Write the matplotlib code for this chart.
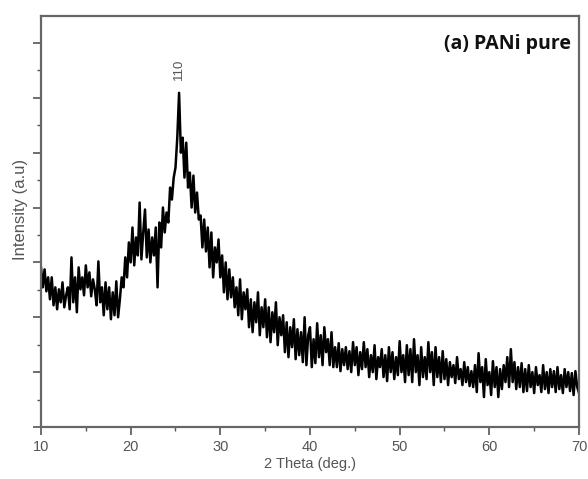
import numpy as np
import matplotlib.pyplot as plt
from matplotlib.ticker import MultipleLocator

# 2 theta from 10 to 70 deg, 0.2 deg step
two_theta = np.round(np.arange(10.0, 70.01, 0.2), 1)

intensity = [
    160, 140, 158, 136, 150,   # 10
    128, 150, 122, 140, 118,   # 11
    138, 125, 145, 120, 132,   # 12
    140, 118, 170, 125, 150,   # 13
    115, 160, 138, 150, 132,   # 14
    162, 140, 155, 131, 148,   # 15
    138, 122, 166, 125, 140,   # 16
    112, 145, 118, 140, 108,   # 17
    135, 112, 146, 110, 128,   # 18
    150, 140, 170, 150, 185,   # 19
    165, 200, 162, 190, 172,   # 20
    225, 168, 195, 218, 170,   # 21
    198, 165, 190, 172, 200,   # 22
    140, 205, 180, 220, 195,   # 23
    215, 205, 240, 228, 250,   # 24
    260, 290, 335, 275, 290,   # 25
    250, 285, 240, 255, 220,   # 26
    252, 215, 235, 208, 212,   # 27
    180, 208, 176, 200, 160,   # 28
    195, 150, 180, 165, 188,   # 29
    150, 172, 135, 165, 128,   # 30
    158, 130, 150, 120, 140,   # 31
    112, 148, 108, 135, 118,   # 32
    138, 100, 128, 95, 125,    # 33
    105, 135, 92, 120, 100,    # 34
    128, 90, 120, 85, 115,     # 35
    95, 125, 82, 110, 92,      # 36
    112, 75, 105, 70, 100,     # 37
    80, 108, 68, 98, 72,       # 38
    95, 65, 110, 62, 92,       # 39
    100, 60, 88, 64, 104,      # 40
    70, 92, 62, 100, 75,       # 41
    88, 62, 95, 60, 80,        # 42
    60, 84, 56, 78, 62,        # 43
    80, 58, 76, 55, 85,        # 44
    62, 80, 52, 75, 58,        # 45
    85, 60, 78, 50, 72,        # 46
    55, 82, 48, 70, 60,        # 47
    78, 50, 72, 46, 80,        # 48
    55, 75, 48, 70, 52,        # 49
    86, 55, 72, 45, 82,        # 50
    52, 78, 45, 88, 55,        # 51
    72, 42, 80, 50, 70,        # 52
    48, 85, 55, 75, 42,        # 53
    80, 50, 70, 45, 76,        # 54
    48, 68, 42, 65, 50,        # 55
    62, 44, 70, 48, 58,        # 56
    42, 65, 45, 60, 41,        # 57
    56, 40, 62, 35, 74,        # 58
    45, 60, 30, 68, 42,        # 59
    55, 32, 66, 40, 60,        # 60
    30, 58, 38, 62, 45,        # 61
    70, 40, 78, 45, 65,        # 62
    38, 60, 40, 64, 35,        # 63
    58, 36, 62, 40, 55,        # 64
    34, 60, 42, 52, 35,        # 65
    62, 38, 55, 34, 58,        # 66
    40, 56, 35, 60, 38,        # 67
    52, 34, 58, 40, 55,        # 68
    36, 54, 32, 56, 40,        # 69
    34,                        # 70
]

peak_pos = 25.4
peak_label = '110'

plt.rcParams['font.family'] = 'Liberation Sans'

fig = plt.figure(figsize=(5.88, 4.79), dpi=100)
ax = fig.add_axes([0.0697, 0.1086, 0.915, 0.858])

ax.plot(two_theta, intensity, color='black', lw=1.8)

ax.set_xlim(10, 70)
ax.set_ylim(0, 412)
ax.xaxis.set_major_locator(MultipleLocator(10))
ax.xaxis.set_minor_locator(MultipleLocator(5))
ax.yaxis.set_major_locator(MultipleLocator(55))
ax.yaxis.set_minor_locator(MultipleLocator(27.5))
ax.set_yticklabels([])
ax.tick_params(which='major', direction='out', length=6, width=1.2, color='#555555',
               labelsize=10.5, labelcolor='#555555')
ax.tick_params(which='minor', direction='out', length=3, width=1.0, color='#555555')
for s in ax.spines.values():
    s.set_color('#666666')
    s.set_linewidth(1.6)

ax.set_xlabel('2 Theta (deg.)', fontsize=10.5, color='#555555', labelpad=2)
ax.set_ylabel('Intensity (a.u)', fontsize=12, color='#555555', labelpad=1)
ax.yaxis.set_label_coords(-0.025, 0.53)

ax.text(peak_pos, 348, peak_label, rotation=90, ha='center', va='bottom',
        fontsize=9.5, color='#555555')
ax.text(0.985, 0.955, '(a) PANi pure', transform=ax.transAxes, ha='right', va='top',
        fontsize=14, fontweight='bold', family='Open Sans', color='#111111')

fig.savefig('out.png', dpi=100)
